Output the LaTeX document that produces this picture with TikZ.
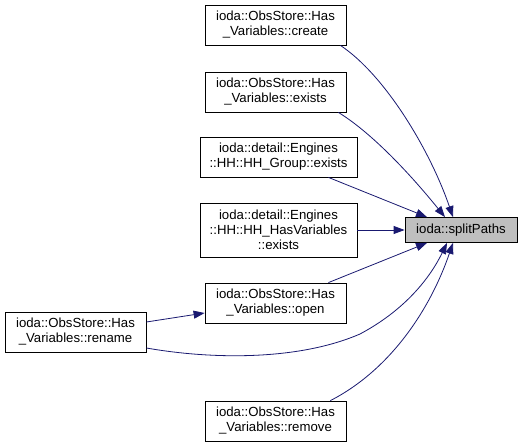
\documentclass[tikz,border=0pt]{standalone}
\usepackage{fontspec}
\setmainfont{Liberation Sans}
\usetikzlibrary{arrows.meta}
\definecolor{edgeblue}{HTML}{191970}
\tikzset{
  fn/.style={draw=black, line width=0.8pt, fill=white, align=center,
    inner sep=0pt, font=\fontsize{13.2}{15}\selectfont},
  fnwide/.style={fn, minimum width=141pt, minimum height=40pt},
  fnhh/.style={fn, minimum width=157pt},
  calls/.style={edgeblue, line width=0.8pt,
    -{Triangle[length=11pt,width=8pt]}}
}
\begin{document}
\begin{tikzpicture}[x=1pt, y=-1pt]
\useasboundingbox (0,0) rectangle (523,447);
% callee
\node[fn, fill=black!25, minimum width=112pt, minimum height=25pt] (split) at (461,230) {ioda::splitPaths};
% callers
\node[fnwide] (create) at (275.5,25) {ioda::ObsStore::Has\\\_Variables::create};
\node[fnwide] (exists) at (275.5,92) {ioda::ObsStore::Has\\\_Variables::exists};
\node[fnhh, minimum height=40pt] (hhgroup) at (278.5,157) {ioda::detail::Engines\\::HH::HH\_Group::exists};
\node[fnhh, minimum height=54pt] (hhvars) at (278.5,230) {ioda::detail::Engines\\::HH::HH\_HasVariables\\::exists};
\node[fnwide] (open) at (275.5,303) {ioda::ObsStore::Has\\\_Variables::open};
\node[fnwide] (rename) at (75.5,332) {ioda::ObsStore::Has\\\_Variables::rename};
\node[fnwide] (remove) at (275.5,421) {ioda::ObsStore::Has\\\_Variables::remove};
% edges
\draw[calls] (create.south east) ++(-6,0) .. controls (385,75) and (430,150) .. (split.north west -| 453,0);
\draw[calls] (exists.south east) ++(-8,0) .. controls (375,135) and (415,180) .. (split.north west -| 445,0);
\draw[calls] (hhgroup.south east) ++(-29,0) -- (split.north west -| 427,0);
\draw[calls] (hhvars) -- (split);
\draw[calls] (open.north east) ++(-18,0) -- (split.south west -| 427,0);
\draw[calls] (rename.east |- 0,348) .. controls (215,360) and (300,360) .. (360,334) .. controls (405,310) and (430,278) .. (split.south west -| 447,0);
\draw[calls] (remove.north east) ++(-16,0) .. controls (390,370) and (430,310) .. (split.south west -| 453,0);
\draw[calls] (rename.east |- 0,322) -- (open.west |- 0,313);
\end{tikzpicture}
\end{document}
